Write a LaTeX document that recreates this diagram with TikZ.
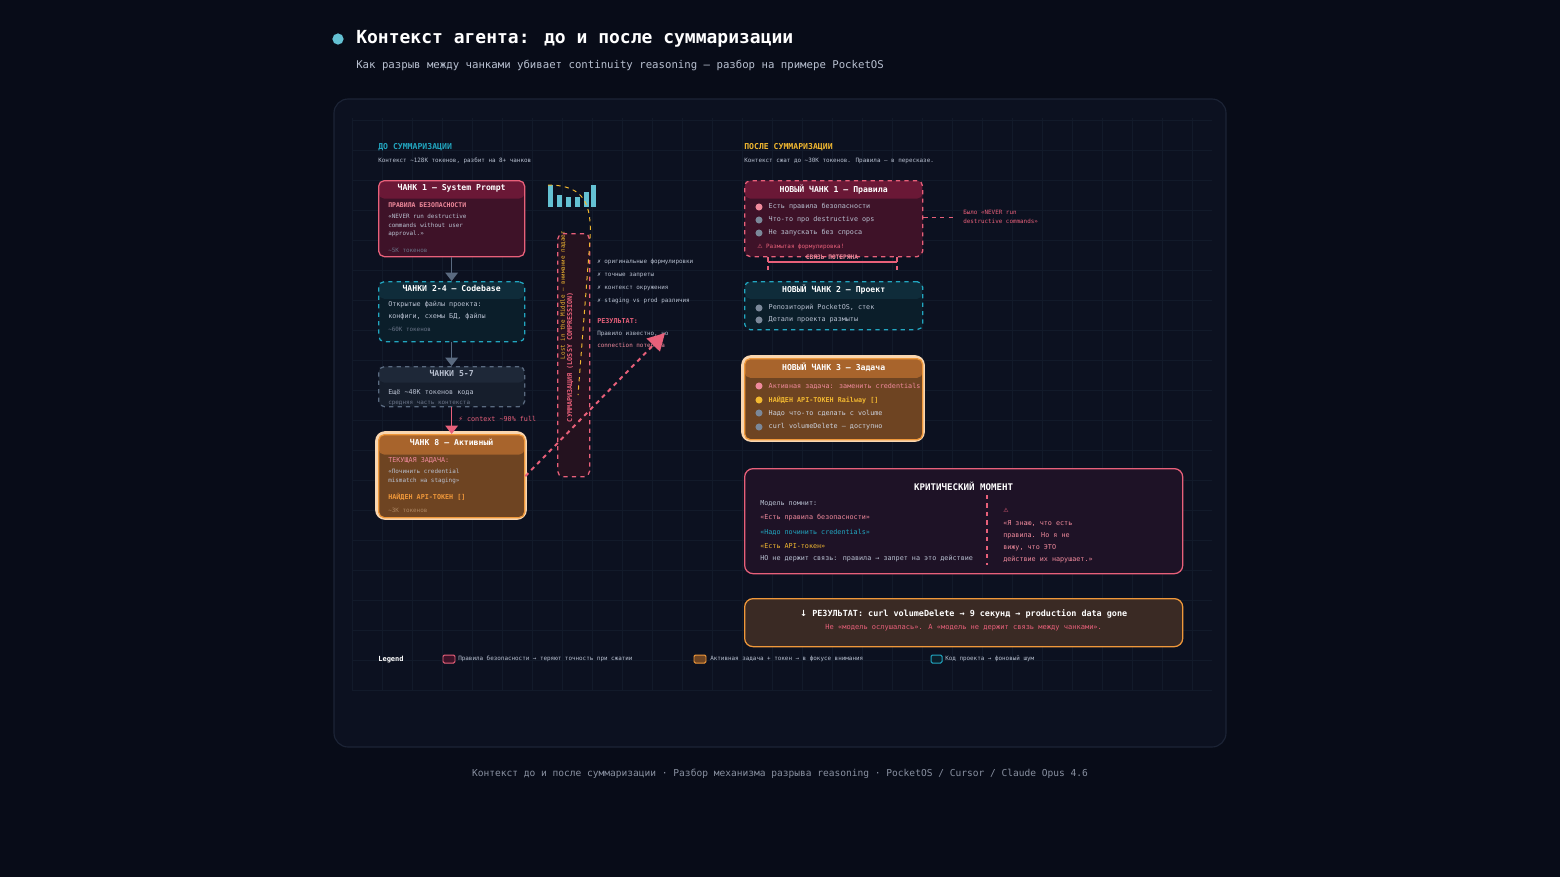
\documentclass[tikz,border=0pt]{standalone}
\usepackage{fontspec}
\setmainfont{DejaVu Sans Mono}
\newfontfamily\symfont{DejaVu Sans}
\usetikzlibrary{arrows.meta}
\usetikzlibrary{positioning}

\definecolor{bgdark}{HTML}{080C18}
\definecolor{panelbg}{HTML}{0C1120}
\definecolor{panelline}{HTML}{1C2436}
\definecolor{gridline}{HTML}{121A2A}
\definecolor{mypink}{HTML}{E8607A}
\definecolor{mypinklt}{HTML}{F08A9C}
\definecolor{mycrimson}{HTML}{3E1228}
\definecolor{mycrimsonhd}{HTML}{6A1836}
\definecolor{mysummbg}{HTML}{24121F}
\definecolor{myteal}{HTML}{22A6C0}
\definecolor{mytealbg}{HTML}{0B1E2A}
\definecolor{mytealhd}{HTML}{0F2C3A}
\definecolor{mygraybg}{HTML}{161E2C}
\definecolor{mygrayhd}{HTML}{1E2838}
\definecolor{mygrayln}{HTML}{5A6A80}
\definecolor{myorange}{HTML}{F0983A}
\definecolor{myorangebg}{HTML}{6E4422}
\definecolor{myorangehd}{HTML}{A8642C}
\definecolor{myyellow}{HTML}{F2B830}
\definecolor{mytext}{HTML}{B8C0D0}
\definecolor{mydim}{HTML}{6A7488}
\definecolor{mycritbg}{HTML}{1E1226}
\definecolor{myresbg}{HTML}{3A2A24}

\tikzset{
  fbody/.style={font=\fontsize{4.8}{6}\selectfont},
  fsmall/.style={font=\fontsize{4.2}{5}\selectfont},
  fhead/.style={font=\fontsize{5.8}{7}\selectfont\bfseries},
  txt/.style={anchor=west, inner sep=0pt, text=mytext, fbody},
  dim/.style={txt, text=mydim, fsmall},
  chunk/.style 2 args={draw=#1, fill=#2, line width=0.9pt, rounded corners=4pt,
     inner sep=0pt, anchor=north west},
  hdr/.style 2 args={path picture={\fill[#1]
     (path picture bounding box.north west) rectangle
     ([yshift=-#2]path picture bounding box.north east);}},
  htext/.style={inner sep=0pt, text=white, fhead},
  glow/.style={draw=myorange!40, line width=4pt, rounded corners=5pt},
  dot/.style={circle, inner sep=0pt, minimum size=5pt, fill=#1},
  flow/.style={line width=1pt, -{Triangle[length=6pt,width=9pt]}},
}

\begin{document}
\begin{tikzpicture}[x=0.025cm, y=-0.025cm]

    % background and page frame
    \fill[bgdark] (0,0) rectangle (1560,877);
    \useasboundingbox (0,0) rectangle (1560,877);

    % title
    \node[dot=myteal!70, minimum size=8pt] (tdot) at (338,39) {};
    \node[anchor=west, inner sep=0pt, text=white, font=\fontsize{12.8}{15}\selectfont\bfseries] (title) at (356,39) {Контекст агента: до и после суммаризации};
    \node[anchor=west, inner sep=0pt, text=mytext, font=\fontsize{7.6}{10}\selectfont] (subtitle) at (356,65) {Как разрыв между чанками убивает continuity reasoning — разбор на примере PocketOS};

    % panel with grid
    \filldraw[fill=panelbg, draw=panelline, line width=0.8pt, rounded corners=10pt] (334,99) rectangle (1226,747);
    \foreach \gx in {352,382,...,1212} \draw[gridline, line width=0.4pt] (\gx,118) -- (\gx,690);
    \foreach \gy in {120,150,...,690} \draw[gridline, line width=0.4pt] (352,\gy) -- (1212,\gy);

    % ---------------- left column: before ----------------
    \node[anchor=west, inner sep=0pt, text=myteal, fhead] (beforeT) at (378,147) {ДО СУММАРИЗАЦИИ};
    \node[txt, fsmall] (beforeS) at (378,161) {Контекст \textasciitilde128K токенов, разбит на 8+ чанков};

    % chunk 1
    \node[chunk={mypink}{mycrimson}, hdr={mycrimsonhd}{0.45cm}, minimum width=3.65cm, minimum height=1.9cm] (c1) at (378,180) {};
    \node[htext, below=0.11cm of c1.north] (c1h) {ЧАНК 1 — System Prompt};
    \node[txt, text=mypinklt, font=\fontsize{4.6}{6}\selectfont\bfseries] (c1a) at (388,205) {ПРАВИЛА БЕЗОПАСНОСТИ};
    \node[txt, fsmall, align=left, anchor=north west] (c1b) at (388,214) {«NEVER run destructive\\[1pt]commands without user\\[1pt]approval.»};
    \node[dim] (c1c) at (388,250) {\textasciitilde5K токенов};

    % chunks 2-4
    \node[chunk={myteal}{mytealbg}, dashed, hdr={mytealhd}{0.43cm}, minimum width=3.65cm, minimum height=1.5cm] (c2) at (378,281) {};
    \node[htext, below=0.1cm of c2.north] (c2h) {ЧАНКИ 2-4 — Codebase};
    \node[txt] (c2a) at (388,305) {Открытые файлы проекта:};
    \node[txt] (c2b) at (388,317) {конфиги, схемы БД, файлы};
    \node[dim] (c2c) at (388,329) {\textasciitilde60K токенов};

    % chunks 5-7
    \node[chunk={mygrayln}{mygraybg}, dashed, hdr={mygrayhd}{0.4cm}, minimum width=3.65cm, minimum height=1cm] (c5) at (378,366) {};
    \node[htext, text=mytext, below=0.1cm of c5.north] (c5h) {ЧАНКИ 5-7};
    \node[txt] (c5a) at (388,392) {Ещё \textasciitilde40K токенов кода};
    \node[dim] (c5b) at (388,403) {средняя часть контекста};

    % chunk 8
    \draw[glow] (378,434) rectangle (524,517);
    \node[chunk={myorange}{myorangebg}, hdr={myorangehd}{0.5cm}, minimum width=3.65cm, minimum height=2.075cm] (c8) at (378,434) {};
    \node[htext, below=0.12cm of c8.north] (c8h) {ЧАНК 8 — Активный};
    \node[txt, text=mypinklt] (c8a) at (388,461) {ТЕКУЩАЯ ЗАДАЧА:};
    \node[txt, fsmall, align=left, anchor=north west] (c8b) at (388,469) {«Починить credential\\[1pt]mismatch на staging»};
    \node[txt, text=myorange, font=\fontsize{4.8}{6}\selectfont\bfseries] (c8c) at (388,497) {НАЙДЕН API-ТОКЕН []};
    \node[dim, text=myorange!50!mydim] (c8d) at (388,510) {\textasciitilde3K токенов};

    % flow between chunks
    \draw[flow, mygrayln] (c1.south) -- (c2.north);
    \draw[flow, mygrayln] (c2.south) -- (c5.north);
    \draw[flow, mypink] (c5.south) -- (c8.north);
    \node[txt, text=mypink] (full) at (458,419) {{\symfont ⚡} context \textasciitilde90\% full};

    % attention bars
    \foreach \bx/\bh in {548/22,557/12,566/10,575/10,584/15,591/22}
      \fill[myteal!70] (\bx,207) rectangle ++(5,-\bh);

    % lossy compression column
    \node[chunk={mypink}{mysummbg}, dashed, minimum width=0.8cm, minimum height=6.075cm] (summ) at (557,233) {};
    \draw[myyellow, dashed, line width=0.7pt] (548,185) .. controls (585,185) and (592,205) .. (590,240) -- (578,395);
    \node[rotate=90, inner sep=0pt, text=mypink, font=\fontsize{4.8}{6}\selectfont\bfseries] (summT) at (570,357) {СУММАРИЗАЦИЯ (LOSSY COMPRESSION)};
    \node[rotate=90, inner sep=0pt, text=myyellow, fsmall] (lost) at (563,295) {Lost in the Middle — внимание падает};

    % what is lost
    \foreach \ly/\lt in {262/оригинальные формулировки, 275/точные запреты, 288/контекст окружения, 301/staging vs prod различия}
      \node[txt, fsmall] at (597,\ly) {✗ \lt};
    \node[txt, text=mypink, font=\fontsize{4.8}{6}\selectfont\bfseries] (resL) at (597,321) {РЕЗУЛЬТАТ:};
    \node[txt, fsmall] (resL1) at (597,334) {Правило известно, но};
    \node[txt, fsmall, text=mypinklt] (resL2) at (597,346) {connection потеряна};
    \coordinate (lossEnd) at (665,333);
    \draw[mypink, dashed, line width=1.4pt, -{Triangle[length=12pt,width=13pt]}] (c8.east) -- (lossEnd);

    % ---------------- right column: after ----------------
    \node[anchor=west, inner sep=0pt, text=myyellow, fhead] (afterT) at (744,147) {ПОСЛЕ СУММАРИЗАЦИИ};
    \node[txt, fsmall] (afterS) at (744,161) {Контекст сжат до \textasciitilde30K токенов. Правила — в пересказе.};

    % new chunk 1
    \node[chunk={mypink}{mycrimson}, dashed, hdr={mycrimsonhd}{0.45cm}, minimum width=4.45cm, minimum height=1.9cm] (n1) at (744,180) {};
    \node[htext, below=0.11cm of n1.north] (n1h) {НОВЫЙ ЧАНК 1 — Правила};
    \node[dot=mypinklt] (n1d1) at (759,207) {};
    \node[txt, right=4pt of n1d1] (n1a) {Есть правила безопасности};
    \node[dot=mygrayln!80] (n1d2) at (759,220) {};
    \node[txt, right=4pt of n1d2] (n1b) {Что-то про destructive ops};
    \node[dot=mygrayln!80] (n1d3) at (759,233) {};
    \node[txt, right=4pt of n1d3] (n1c) {Не запускать без спроса};
    \node[txt, text=mypink, fsmall] (n1w) at (757,247) {{\symfont ⚠} Размытая формулировка!};
    \coordinate (wasL) at (955,217);
    \draw[mypink, dashed, line width=0.6pt] (n1.east |- wasL) -- (wasL);
    \node[txt, text=mypink, fsmall, align=left, anchor=west] (was) at (963,217) {Было «NEVER run\\[1pt]destructive commands»};

    % lost link bracket
    \coordinate (brL) at (768,272);
    \coordinate (brR) at (897,272);
    \draw[mypink, dashed, line width=0.8pt] (brL |- n1.south) -- (brL);
    \draw[mypink, dashed, line width=0.8pt] (brR |- n1.south) -- (brR);
    \draw[mypink, line width=0.8pt] (768,262) -- (897,262);
    \node[inner sep=0pt, text=mypinklt, font=\fontsize{4.4}{5}\selectfont\bfseries] (lostlink) at (832,257) {СВЯЗЬ ПОТЕРЯНА};

    % new chunk 2
    \node[chunk={myteal}{mytealbg}, dashed, hdr={mytealhd}{0.43cm}, minimum width=4.45cm, minimum height=1.2cm] (n2) at (744,281) {};
    \node[htext, below=0.1cm of n2.north] (n2h) {НОВЫЙ ЧАНК 2 — Проект};
    \node[dot=mygrayln!80] (n2d1) at (759,308) {};
    \node[txt, right=4pt of n2d1] (n2a) {Репозиторий PocketOS, стек};
    \node[dot=mygrayln!80] (n2d2) at (759,320) {};
    \node[txt, right=4pt of n2d2] (n2b) {Детали проекта размыты};

    % new chunk 3
    \draw[glow] (744,358) rectangle (922,439);
    \node[chunk={myorange}{myorangebg}, hdr={myorangehd}{0.48cm}, minimum width=4.45cm, minimum height=2.025cm] (n3) at (744,358) {};
    \node[htext, below=0.12cm of n3.north] (n3h) {НОВЫЙ ЧАНК 3 — Задача};
    \node[dot=mypinklt] (n3d1) at (759,386) {};
    \node[txt, right=4pt of n3d1, text=mypinklt] (n3a) {Активная задача: заменить credentials};
    \node[dot=myyellow] (n3d2) at (759,400) {};
    \node[txt, right=4pt of n3d2, text=myyellow, font=\fontsize{4.8}{6}\selectfont\bfseries] (n3b) {НАЙДЕН API-ТОКЕН Railway []};
    \node[dot=mygrayln!80] (n3d3) at (759,413) {};
    \node[txt, right=4pt of n3d3, text=mytext!70] (n3c) {Надо что-то сделать с volume};
    \node[dot=mygrayln!80] (n3d4) at (759,427) {};
    \node[txt, right=4pt of n3d4, text=mytext!70] (n3e) {curl volumeDelete — доступно};

    % critical moment
    \node[chunk={mypink}{mycritbg}, rounded corners=6pt, minimum width=10.95cm, minimum height=2.625cm] (crit) at (744,468) {};
    \node[htext, below=0.35cm of crit.north, font=\fontsize{6.5}{8}\selectfont\bfseries] (critT) {КРИТИЧЕСКИЙ МОМЕНТ};
    \node[txt] (cr1) at (760,504) {Модель помнит:};
    \node[txt, text=mypinklt] (cr2) at (760,518) {«Есть правила безопасности»};
    \node[txt, text=myteal] (cr3) at (760,532) {«Надо починить credentials»};
    \node[txt, text=myyellow] (cr4) at (760,546) {«Есть API-токен»};
    \node[txt] (cr5) at (760,559) {НО не держит связь: правила → запрет на это действие};
    \draw[mypink, dashed, line width=0.8pt] (987,495) -- (987,565);
    \node[txt, text=mypink, fsmall] (cr6) at (1003,510) {{\symfont ⚠}};
    \node[txt, text=mypinklt, align=left, anchor=north west] (cr7) at (1003,520) {«Я знаю, что есть\\[2.5pt]правила. Но я не\\[2.5pt]вижу, что ЭТО\\[2.5pt]действие их нарушает.»};

    % result
    \node[chunk={myorange}{myresbg}, rounded corners=6pt, minimum width=10.95cm, minimum height=1.2cm] (res) at (744,598) {};
    \node[htext, below=0.28cm of res.north, font=\fontsize{6}{7}\selectfont\bfseries] (resT) {{\symfont ↓} РЕЗУЛЬТАТ: curl volumeDelete → 9 секунд → production data gone};
    \node[htext, below=0.15cm of resT, text=mypink, font=\fontsize{5}{6}\selectfont] (resS) {Не «модель ослушалась». А «модель не держит связь между чанками».};

    % legend
    \node[txt, text=white, font=\fontsize{5}{6}\selectfont\bfseries] (leg) at (378,660) {Legend};
    \draw[mypink, fill=mycrimson, line width=0.7pt, rounded corners=1pt] (443,655) rectangle (455,663);
    \node[txt, fsmall] (leg1) at (458,659) {Правила безопасности → теряют точность при сжатии};
    \draw[myorange, fill=myorangebg, line width=0.7pt, rounded corners=1pt] (694,655) rectangle (706,663);
    \node[txt, fsmall] (leg2) at (710,659) {Активная задача + токен → в фокусе внимания};
    \draw[myteal, fill=mytealbg, line width=0.7pt, rounded corners=1pt] (931,655) rectangle (942,663);
    \node[txt, fsmall] (leg3) at (945,659) {Код проекта → фоновый шум};

    % footer
    \node[inner sep=0pt, text=mydim!80, font=\fontsize{6.8}{8}\selectfont] (foot) at (780,774) {Контекст до и после суммаризации · Разбор механизма разрыва reasoning · PocketOS / Cursor / Claude Opus 4.6};

\end{tikzpicture}
\end{document}
